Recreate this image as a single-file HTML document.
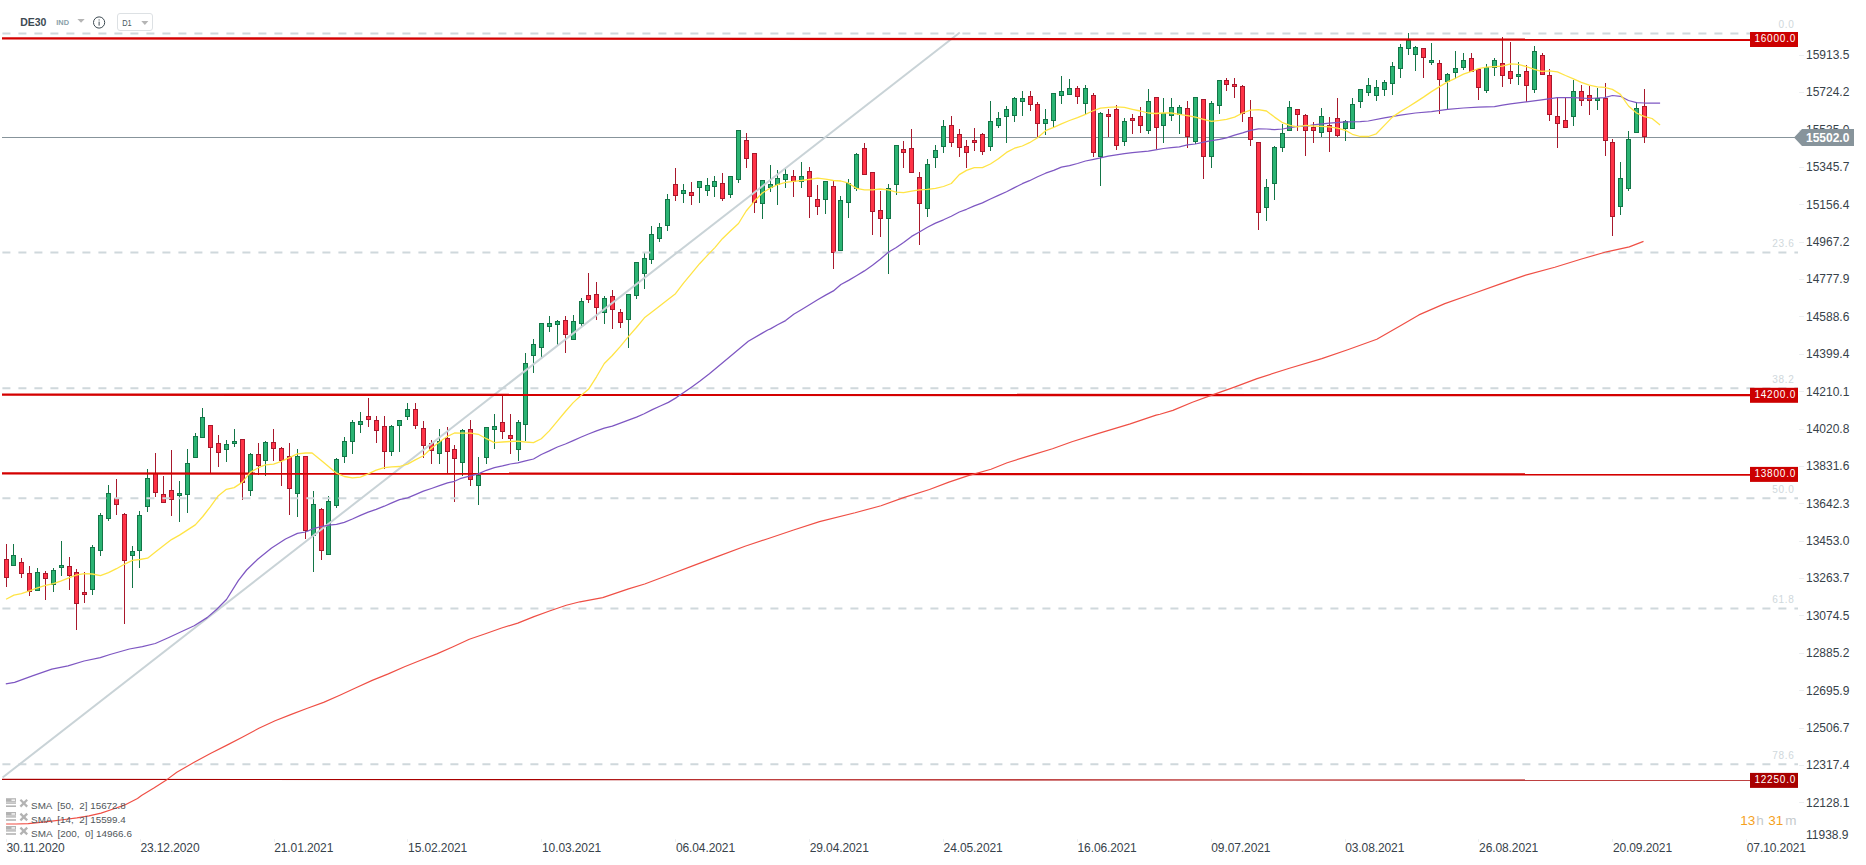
<!DOCTYPE html>
<html><head><meta charset="utf-8"><title>DE30 D1</title>
<style>
html,body{margin:0;padding:0;background:#fff;}
body{width:1866px;height:865px;overflow:hidden;position:relative;font-family:"Liberation Sans",sans-serif;}
svg{position:absolute;left:0;top:0;display:block}
svg text{font-family:"Liberation Sans",sans-serif;}
.ax{font-size:12px;fill:#37424a}
.dt{font-size:12px;fill:#37424a;letter-spacing:-0.1px}
.fib{font-size:10px;fill:#cfd8dc;text-anchor:end;letter-spacing:0.75px}
.tag{font-size:10px;fill:#fff;letter-spacing:0.8px}
.leg{font-size:8.6px;fill:#50565a;white-space:pre}
</style></head><body>
<svg width="1866" height="865" viewBox="0 0 1866 865">
<rect width="1866" height="865" fill="#fff"/>
<g shape-rendering="crispEdges"><rect x="2" y="137" width="1796" height="1" fill="#87949b"/></g>
<g shape-rendering="crispEdges">
<rect x="6" y="544" width="1" height="43" fill="#a8182c"/>
<rect x="4" y="559" width="5" height="19" fill="#a8182c"/>
<rect x="5" y="560" width="3" height="17" fill="#ff3347"/>
<rect x="13" y="544" width="1" height="22" fill="#137547"/>
<rect x="11" y="555" width="5" height="11" fill="#137547"/>
<rect x="12" y="556" width="3" height="9" fill="#2bb373"/>
<rect x="21" y="558" width="1" height="20" fill="#a8182c"/>
<rect x="19" y="562" width="5" height="12" fill="#a8182c"/>
<rect x="20" y="563" width="3" height="10" fill="#ff3347"/>
<rect x="29" y="566" width="1" height="30" fill="#a8182c"/>
<rect x="27" y="573" width="5" height="19" fill="#a8182c"/>
<rect x="28" y="574" width="3" height="17" fill="#ff3347"/>
<rect x="37" y="568" width="1" height="23" fill="#137547"/>
<rect x="35" y="572" width="5" height="19" fill="#137547"/>
<rect x="36" y="573" width="3" height="17" fill="#2bb373"/>
<rect x="45" y="571" width="1" height="29" fill="#a8182c"/>
<rect x="43" y="573" width="5" height="6" fill="#a8182c"/>
<rect x="44" y="574" width="3" height="4" fill="#ff3347"/>
<rect x="53" y="568" width="1" height="24" fill="#137547"/>
<rect x="51" y="570" width="5" height="15" fill="#137547"/>
<rect x="52" y="571" width="3" height="13" fill="#2bb373"/>
<rect x="61" y="541" width="1" height="35" fill="#137547"/>
<rect x="59" y="565" width="5" height="3" fill="#137547"/>
<rect x="60" y="566" width="3" height="1" fill="#2bb373"/>
<rect x="69" y="557" width="1" height="33" fill="#a8182c"/>
<rect x="67" y="566" width="5" height="10" fill="#a8182c"/>
<rect x="68" y="567" width="3" height="8" fill="#ff3347"/>
<rect x="76" y="569" width="1" height="61" fill="#a8182c"/>
<rect x="74" y="572" width="5" height="32" fill="#a8182c"/>
<rect x="75" y="573" width="3" height="30" fill="#ff3347"/>
<rect x="84" y="572" width="1" height="31" fill="#a8182c"/>
<rect x="82" y="592" width="5" height="3" fill="#a8182c"/>
<rect x="83" y="593" width="3" height="1" fill="#ff3347"/>
<rect x="92" y="545" width="1" height="50" fill="#137547"/>
<rect x="90" y="547" width="5" height="43" fill="#137547"/>
<rect x="91" y="548" width="3" height="41" fill="#2bb373"/>
<rect x="100" y="513" width="1" height="43" fill="#137547"/>
<rect x="98" y="515" width="5" height="36" fill="#137547"/>
<rect x="99" y="516" width="3" height="34" fill="#2bb373"/>
<rect x="108" y="485" width="1" height="36" fill="#137547"/>
<rect x="106" y="493" width="5" height="26" fill="#137547"/>
<rect x="107" y="494" width="3" height="24" fill="#2bb373"/>
<rect x="116" y="479" width="1" height="36" fill="#a8182c"/>
<rect x="114" y="498" width="5" height="7" fill="#a8182c"/>
<rect x="115" y="499" width="3" height="5" fill="#ff3347"/>
<rect x="124" y="513" width="1" height="111" fill="#a8182c"/>
<rect x="122" y="514" width="5" height="47" fill="#a8182c"/>
<rect x="123" y="515" width="3" height="45" fill="#ff3347"/>
<rect x="132" y="546" width="1" height="42" fill="#137547"/>
<rect x="130" y="551" width="5" height="5" fill="#137547"/>
<rect x="131" y="552" width="3" height="3" fill="#2bb373"/>
<rect x="139" y="511" width="1" height="57" fill="#137547"/>
<rect x="137" y="515" width="5" height="36" fill="#137547"/>
<rect x="138" y="516" width="3" height="34" fill="#2bb373"/>
<rect x="147" y="469" width="1" height="43" fill="#137547"/>
<rect x="145" y="478" width="5" height="29" fill="#137547"/>
<rect x="146" y="479" width="3" height="27" fill="#2bb373"/>
<rect x="155" y="453" width="1" height="44" fill="#a8182c"/>
<rect x="153" y="473" width="5" height="20" fill="#a8182c"/>
<rect x="154" y="474" width="3" height="18" fill="#ff3347"/>
<rect x="163" y="476" width="1" height="27" fill="#a8182c"/>
<rect x="161" y="494" width="5" height="9" fill="#a8182c"/>
<rect x="162" y="495" width="3" height="7" fill="#ff3347"/>
<rect x="171" y="450" width="1" height="66" fill="#a8182c"/>
<rect x="169" y="490" width="5" height="10" fill="#a8182c"/>
<rect x="170" y="491" width="3" height="8" fill="#ff3347"/>
<rect x="179" y="481" width="1" height="41" fill="#137547"/>
<rect x="177" y="493" width="5" height="3" fill="#137547"/>
<rect x="178" y="494" width="3" height="1" fill="#2bb373"/>
<rect x="187" y="449" width="1" height="64" fill="#137547"/>
<rect x="185" y="463" width="5" height="32" fill="#137547"/>
<rect x="186" y="464" width="3" height="30" fill="#2bb373"/>
<rect x="195" y="433" width="1" height="25" fill="#137547"/>
<rect x="193" y="436" width="5" height="22" fill="#137547"/>
<rect x="194" y="437" width="3" height="20" fill="#2bb373"/>
<rect x="202" y="408" width="1" height="30" fill="#137547"/>
<rect x="200" y="417" width="5" height="21" fill="#137547"/>
<rect x="201" y="418" width="3" height="19" fill="#2bb373"/>
<rect x="210" y="425" width="1" height="48" fill="#a8182c"/>
<rect x="208" y="425" width="5" height="23" fill="#a8182c"/>
<rect x="209" y="426" width="3" height="21" fill="#ff3347"/>
<rect x="218" y="435" width="1" height="32" fill="#a8182c"/>
<rect x="216" y="443" width="5" height="10" fill="#a8182c"/>
<rect x="217" y="444" width="3" height="8" fill="#ff3347"/>
<rect x="226" y="440" width="1" height="22" fill="#137547"/>
<rect x="224" y="444" width="5" height="6" fill="#137547"/>
<rect x="225" y="445" width="3" height="4" fill="#2bb373"/>
<rect x="234" y="429" width="1" height="18" fill="#137547"/>
<rect x="232" y="441" width="5" height="3" fill="#137547"/>
<rect x="233" y="442" width="3" height="1" fill="#2bb373"/>
<rect x="242" y="439" width="1" height="61" fill="#a8182c"/>
<rect x="240" y="439" width="5" height="44" fill="#a8182c"/>
<rect x="241" y="440" width="3" height="42" fill="#ff3347"/>
<rect x="250" y="453" width="1" height="43" fill="#137547"/>
<rect x="248" y="454" width="5" height="37" fill="#137547"/>
<rect x="249" y="455" width="3" height="35" fill="#2bb373"/>
<rect x="258" y="443" width="1" height="32" fill="#a8182c"/>
<rect x="256" y="454" width="5" height="12" fill="#a8182c"/>
<rect x="257" y="455" width="3" height="10" fill="#ff3347"/>
<rect x="265" y="441" width="1" height="35" fill="#137547"/>
<rect x="263" y="442" width="5" height="19" fill="#137547"/>
<rect x="264" y="443" width="3" height="17" fill="#2bb373"/>
<rect x="273" y="429" width="1" height="32" fill="#a8182c"/>
<rect x="271" y="442" width="5" height="7" fill="#a8182c"/>
<rect x="272" y="443" width="3" height="5" fill="#ff3347"/>
<rect x="281" y="447" width="1" height="39" fill="#a8182c"/>
<rect x="279" y="448" width="5" height="13" fill="#a8182c"/>
<rect x="280" y="449" width="3" height="11" fill="#ff3347"/>
<rect x="289" y="443" width="1" height="72" fill="#a8182c"/>
<rect x="287" y="456" width="5" height="33" fill="#a8182c"/>
<rect x="288" y="457" width="3" height="31" fill="#ff3347"/>
<rect x="297" y="449" width="1" height="68" fill="#137547"/>
<rect x="295" y="456" width="5" height="38" fill="#137547"/>
<rect x="296" y="457" width="3" height="36" fill="#2bb373"/>
<rect x="305" y="456" width="1" height="83" fill="#a8182c"/>
<rect x="303" y="456" width="5" height="75" fill="#a8182c"/>
<rect x="304" y="457" width="3" height="73" fill="#ff3347"/>
<rect x="313" y="491" width="1" height="81" fill="#137547"/>
<rect x="311" y="504" width="5" height="32" fill="#137547"/>
<rect x="312" y="505" width="3" height="30" fill="#2bb373"/>
<rect x="321" y="508" width="1" height="52" fill="#a8182c"/>
<rect x="319" y="509" width="5" height="42" fill="#a8182c"/>
<rect x="320" y="510" width="3" height="40" fill="#ff3347"/>
<rect x="328" y="496" width="1" height="59" fill="#137547"/>
<rect x="326" y="501" width="5" height="54" fill="#137547"/>
<rect x="327" y="502" width="3" height="52" fill="#2bb373"/>
<rect x="336" y="458" width="1" height="50" fill="#137547"/>
<rect x="334" y="459" width="5" height="47" fill="#137547"/>
<rect x="335" y="460" width="3" height="45" fill="#2bb373"/>
<rect x="344" y="437" width="1" height="26" fill="#137547"/>
<rect x="342" y="441" width="5" height="16" fill="#137547"/>
<rect x="343" y="442" width="3" height="14" fill="#2bb373"/>
<rect x="352" y="420" width="1" height="34" fill="#137547"/>
<rect x="350" y="422" width="5" height="20" fill="#137547"/>
<rect x="351" y="423" width="3" height="18" fill="#2bb373"/>
<rect x="360" y="412" width="1" height="21" fill="#137547"/>
<rect x="358" y="421" width="5" height="4" fill="#137547"/>
<rect x="359" y="422" width="3" height="2" fill="#2bb373"/>
<rect x="368" y="398" width="1" height="29" fill="#a8182c"/>
<rect x="366" y="416" width="5" height="4" fill="#a8182c"/>
<rect x="367" y="417" width="3" height="2" fill="#ff3347"/>
<rect x="376" y="416" width="1" height="27" fill="#a8182c"/>
<rect x="374" y="420" width="5" height="11" fill="#a8182c"/>
<rect x="375" y="421" width="3" height="9" fill="#ff3347"/>
<rect x="384" y="416" width="1" height="53" fill="#a8182c"/>
<rect x="382" y="426" width="5" height="26" fill="#a8182c"/>
<rect x="383" y="427" width="3" height="24" fill="#ff3347"/>
<rect x="391" y="425" width="1" height="31" fill="#137547"/>
<rect x="389" y="426" width="5" height="26" fill="#137547"/>
<rect x="390" y="427" width="3" height="24" fill="#2bb373"/>
<rect x="399" y="420" width="1" height="32" fill="#137547"/>
<rect x="397" y="420" width="5" height="6" fill="#137547"/>
<rect x="398" y="421" width="3" height="4" fill="#2bb373"/>
<rect x="407" y="403" width="1" height="17" fill="#137547"/>
<rect x="405" y="409" width="5" height="8" fill="#137547"/>
<rect x="406" y="410" width="3" height="6" fill="#2bb373"/>
<rect x="415" y="403" width="1" height="26" fill="#a8182c"/>
<rect x="413" y="409" width="5" height="17" fill="#a8182c"/>
<rect x="414" y="410" width="3" height="15" fill="#ff3347"/>
<rect x="423" y="421" width="1" height="37" fill="#a8182c"/>
<rect x="421" y="428" width="5" height="18" fill="#a8182c"/>
<rect x="422" y="429" width="3" height="16" fill="#ff3347"/>
<rect x="431" y="440" width="1" height="24" fill="#a8182c"/>
<rect x="429" y="443" width="5" height="8" fill="#a8182c"/>
<rect x="430" y="444" width="3" height="6" fill="#ff3347"/>
<rect x="439" y="429" width="1" height="35" fill="#137547"/>
<rect x="437" y="441" width="5" height="13" fill="#137547"/>
<rect x="438" y="442" width="3" height="11" fill="#2bb373"/>
<rect x="447" y="427" width="1" height="47" fill="#a8182c"/>
<rect x="445" y="438" width="5" height="14" fill="#a8182c"/>
<rect x="446" y="439" width="3" height="12" fill="#ff3347"/>
<rect x="454" y="445" width="1" height="57" fill="#a8182c"/>
<rect x="452" y="449" width="5" height="10" fill="#a8182c"/>
<rect x="453" y="450" width="3" height="8" fill="#ff3347"/>
<rect x="462" y="429" width="1" height="47" fill="#137547"/>
<rect x="460" y="430" width="5" height="33" fill="#137547"/>
<rect x="461" y="431" width="3" height="31" fill="#2bb373"/>
<rect x="470" y="420" width="1" height="66" fill="#a8182c"/>
<rect x="468" y="429" width="5" height="51" fill="#a8182c"/>
<rect x="469" y="430" width="3" height="49" fill="#ff3347"/>
<rect x="478" y="457" width="1" height="48" fill="#137547"/>
<rect x="476" y="475" width="5" height="11" fill="#137547"/>
<rect x="477" y="476" width="3" height="9" fill="#2bb373"/>
<rect x="486" y="427" width="1" height="37" fill="#137547"/>
<rect x="484" y="427" width="5" height="31" fill="#137547"/>
<rect x="485" y="428" width="3" height="29" fill="#2bb373"/>
<rect x="494" y="414" width="1" height="35" fill="#137547"/>
<rect x="492" y="426" width="5" height="4" fill="#137547"/>
<rect x="493" y="427" width="3" height="2" fill="#2bb373"/>
<rect x="502" y="395" width="1" height="44" fill="#a8182c"/>
<rect x="500" y="422" width="5" height="10" fill="#a8182c"/>
<rect x="501" y="423" width="3" height="8" fill="#ff3347"/>
<rect x="510" y="414" width="1" height="40" fill="#a8182c"/>
<rect x="508" y="435" width="5" height="4" fill="#a8182c"/>
<rect x="509" y="436" width="3" height="2" fill="#ff3347"/>
<rect x="518" y="420" width="1" height="41" fill="#137547"/>
<rect x="516" y="422" width="5" height="28" fill="#137547"/>
<rect x="517" y="423" width="3" height="26" fill="#2bb373"/>
<rect x="525" y="353" width="1" height="88" fill="#137547"/>
<rect x="523" y="363" width="5" height="62" fill="#137547"/>
<rect x="524" y="364" width="3" height="60" fill="#2bb373"/>
<rect x="533" y="339" width="1" height="34" fill="#137547"/>
<rect x="531" y="344" width="5" height="12" fill="#137547"/>
<rect x="532" y="345" width="3" height="10" fill="#2bb373"/>
<rect x="541" y="323" width="1" height="34" fill="#137547"/>
<rect x="539" y="323" width="5" height="25" fill="#137547"/>
<rect x="540" y="324" width="3" height="23" fill="#2bb373"/>
<rect x="549" y="316" width="1" height="16" fill="#137547"/>
<rect x="547" y="323" width="5" height="4" fill="#137547"/>
<rect x="548" y="324" width="3" height="2" fill="#2bb373"/>
<rect x="557" y="320" width="1" height="25" fill="#137547"/>
<rect x="555" y="321" width="5" height="4" fill="#137547"/>
<rect x="556" y="322" width="3" height="2" fill="#2bb373"/>
<rect x="565" y="316" width="1" height="37" fill="#a8182c"/>
<rect x="563" y="320" width="5" height="15" fill="#a8182c"/>
<rect x="564" y="321" width="3" height="13" fill="#ff3347"/>
<rect x="573" y="315" width="1" height="25" fill="#137547"/>
<rect x="571" y="321" width="5" height="19" fill="#137547"/>
<rect x="572" y="322" width="3" height="17" fill="#2bb373"/>
<rect x="581" y="298" width="1" height="29" fill="#137547"/>
<rect x="579" y="301" width="5" height="23" fill="#137547"/>
<rect x="580" y="302" width="3" height="21" fill="#2bb373"/>
<rect x="588" y="273" width="1" height="30" fill="#a8182c"/>
<rect x="586" y="295" width="5" height="5" fill="#a8182c"/>
<rect x="587" y="296" width="3" height="3" fill="#ff3347"/>
<rect x="596" y="282" width="1" height="38" fill="#a8182c"/>
<rect x="594" y="294" width="5" height="14" fill="#a8182c"/>
<rect x="595" y="295" width="3" height="12" fill="#ff3347"/>
<rect x="604" y="296" width="1" height="28" fill="#137547"/>
<rect x="602" y="298" width="5" height="15" fill="#137547"/>
<rect x="603" y="299" width="3" height="13" fill="#2bb373"/>
<rect x="612" y="290" width="1" height="39" fill="#a8182c"/>
<rect x="610" y="296" width="5" height="14" fill="#a8182c"/>
<rect x="611" y="297" width="3" height="12" fill="#ff3347"/>
<rect x="620" y="309" width="1" height="19" fill="#a8182c"/>
<rect x="618" y="312" width="5" height="11" fill="#a8182c"/>
<rect x="619" y="313" width="3" height="9" fill="#ff3347"/>
<rect x="628" y="294" width="1" height="54" fill="#137547"/>
<rect x="626" y="294" width="5" height="26" fill="#137547"/>
<rect x="627" y="295" width="3" height="24" fill="#2bb373"/>
<rect x="636" y="262" width="1" height="37" fill="#137547"/>
<rect x="634" y="262" width="5" height="34" fill="#137547"/>
<rect x="635" y="263" width="3" height="32" fill="#2bb373"/>
<rect x="644" y="253" width="1" height="36" fill="#137547"/>
<rect x="642" y="258" width="5" height="16" fill="#137547"/>
<rect x="643" y="259" width="3" height="14" fill="#2bb373"/>
<rect x="651" y="226" width="1" height="38" fill="#137547"/>
<rect x="649" y="234" width="5" height="26" fill="#137547"/>
<rect x="650" y="235" width="3" height="24" fill="#2bb373"/>
<rect x="659" y="223" width="1" height="19" fill="#137547"/>
<rect x="657" y="227" width="5" height="12" fill="#137547"/>
<rect x="658" y="228" width="3" height="10" fill="#2bb373"/>
<rect x="667" y="194" width="1" height="37" fill="#137547"/>
<rect x="665" y="199" width="5" height="27" fill="#137547"/>
<rect x="666" y="200" width="3" height="25" fill="#2bb373"/>
<rect x="675" y="168" width="1" height="33" fill="#a8182c"/>
<rect x="673" y="184" width="5" height="12" fill="#a8182c"/>
<rect x="674" y="185" width="3" height="10" fill="#ff3347"/>
<rect x="683" y="184" width="1" height="19" fill="#137547"/>
<rect x="681" y="190" width="5" height="4" fill="#137547"/>
<rect x="682" y="191" width="3" height="2" fill="#2bb373"/>
<rect x="691" y="182" width="1" height="23" fill="#a8182c"/>
<rect x="689" y="192" width="5" height="4" fill="#a8182c"/>
<rect x="690" y="193" width="3" height="2" fill="#ff3347"/>
<rect x="699" y="181" width="1" height="22" fill="#137547"/>
<rect x="697" y="181" width="5" height="7" fill="#137547"/>
<rect x="698" y="182" width="3" height="5" fill="#2bb373"/>
<rect x="707" y="178" width="1" height="18" fill="#137547"/>
<rect x="705" y="185" width="5" height="6" fill="#137547"/>
<rect x="706" y="186" width="3" height="4" fill="#2bb373"/>
<rect x="714" y="176" width="1" height="21" fill="#137547"/>
<rect x="712" y="181" width="5" height="6" fill="#137547"/>
<rect x="713" y="182" width="3" height="4" fill="#2bb373"/>
<rect x="722" y="173" width="1" height="28" fill="#a8182c"/>
<rect x="720" y="183" width="5" height="16" fill="#a8182c"/>
<rect x="721" y="184" width="3" height="14" fill="#ff3347"/>
<rect x="730" y="176" width="1" height="22" fill="#137547"/>
<rect x="728" y="176" width="5" height="19" fill="#137547"/>
<rect x="729" y="177" width="3" height="17" fill="#2bb373"/>
<rect x="738" y="130" width="1" height="53" fill="#137547"/>
<rect x="736" y="130" width="5" height="50" fill="#137547"/>
<rect x="737" y="131" width="3" height="48" fill="#2bb373"/>
<rect x="746" y="133" width="1" height="35" fill="#a8182c"/>
<rect x="744" y="140" width="5" height="19" fill="#a8182c"/>
<rect x="745" y="141" width="3" height="17" fill="#ff3347"/>
<rect x="754" y="153" width="1" height="60" fill="#a8182c"/>
<rect x="752" y="153" width="5" height="50" fill="#a8182c"/>
<rect x="753" y="154" width="3" height="48" fill="#ff3347"/>
<rect x="762" y="180" width="1" height="39" fill="#137547"/>
<rect x="760" y="180" width="5" height="24" fill="#137547"/>
<rect x="761" y="181" width="3" height="22" fill="#2bb373"/>
<rect x="770" y="165" width="1" height="27" fill="#137547"/>
<rect x="768" y="184" width="5" height="4" fill="#137547"/>
<rect x="769" y="185" width="3" height="2" fill="#2bb373"/>
<rect x="777" y="170" width="1" height="35" fill="#137547"/>
<rect x="775" y="178" width="5" height="7" fill="#137547"/>
<rect x="776" y="179" width="3" height="5" fill="#2bb373"/>
<rect x="785" y="169" width="1" height="19" fill="#137547"/>
<rect x="783" y="174" width="5" height="6" fill="#137547"/>
<rect x="784" y="175" width="3" height="4" fill="#2bb373"/>
<rect x="793" y="170" width="1" height="27" fill="#a8182c"/>
<rect x="791" y="176" width="5" height="6" fill="#a8182c"/>
<rect x="792" y="177" width="3" height="4" fill="#ff3347"/>
<rect x="801" y="162" width="1" height="26" fill="#137547"/>
<rect x="799" y="176" width="5" height="6" fill="#137547"/>
<rect x="800" y="177" width="3" height="4" fill="#2bb373"/>
<rect x="809" y="167" width="1" height="51" fill="#a8182c"/>
<rect x="807" y="171" width="5" height="26" fill="#a8182c"/>
<rect x="808" y="172" width="3" height="24" fill="#ff3347"/>
<rect x="817" y="185" width="1" height="30" fill="#a8182c"/>
<rect x="815" y="199" width="5" height="8" fill="#a8182c"/>
<rect x="816" y="200" width="3" height="6" fill="#ff3347"/>
<rect x="825" y="181" width="1" height="33" fill="#137547"/>
<rect x="823" y="181" width="5" height="19" fill="#137547"/>
<rect x="824" y="182" width="3" height="17" fill="#2bb373"/>
<rect x="833" y="181" width="1" height="88" fill="#a8182c"/>
<rect x="831" y="186" width="5" height="67" fill="#a8182c"/>
<rect x="832" y="187" width="3" height="65" fill="#ff3347"/>
<rect x="840" y="196" width="1" height="55" fill="#137547"/>
<rect x="838" y="200" width="5" height="51" fill="#137547"/>
<rect x="839" y="201" width="3" height="49" fill="#2bb373"/>
<rect x="848" y="179" width="1" height="39" fill="#137547"/>
<rect x="846" y="183" width="5" height="20" fill="#137547"/>
<rect x="847" y="184" width="3" height="18" fill="#2bb373"/>
<rect x="856" y="153" width="1" height="38" fill="#137547"/>
<rect x="854" y="154" width="5" height="35" fill="#137547"/>
<rect x="855" y="155" width="3" height="33" fill="#2bb373"/>
<rect x="864" y="143" width="1" height="32" fill="#a8182c"/>
<rect x="862" y="148" width="5" height="27" fill="#a8182c"/>
<rect x="863" y="149" width="3" height="25" fill="#ff3347"/>
<rect x="872" y="172" width="1" height="63" fill="#a8182c"/>
<rect x="870" y="172" width="5" height="40" fill="#a8182c"/>
<rect x="871" y="173" width="3" height="38" fill="#ff3347"/>
<rect x="880" y="191" width="1" height="46" fill="#a8182c"/>
<rect x="878" y="210" width="5" height="9" fill="#a8182c"/>
<rect x="879" y="211" width="3" height="7" fill="#ff3347"/>
<rect x="888" y="184" width="1" height="90" fill="#137547"/>
<rect x="886" y="188" width="5" height="31" fill="#137547"/>
<rect x="887" y="189" width="3" height="29" fill="#2bb373"/>
<rect x="896" y="145" width="1" height="50" fill="#137547"/>
<rect x="894" y="145" width="5" height="40" fill="#137547"/>
<rect x="895" y="146" width="3" height="38" fill="#2bb373"/>
<rect x="903" y="141" width="1" height="27" fill="#a8182c"/>
<rect x="901" y="149" width="5" height="4" fill="#a8182c"/>
<rect x="902" y="150" width="3" height="2" fill="#ff3347"/>
<rect x="911" y="129" width="1" height="44" fill="#a8182c"/>
<rect x="909" y="148" width="5" height="25" fill="#a8182c"/>
<rect x="910" y="149" width="3" height="23" fill="#ff3347"/>
<rect x="919" y="172" width="1" height="73" fill="#a8182c"/>
<rect x="917" y="177" width="5" height="27" fill="#a8182c"/>
<rect x="918" y="178" width="3" height="25" fill="#ff3347"/>
<rect x="927" y="159" width="1" height="58" fill="#137547"/>
<rect x="925" y="164" width="5" height="45" fill="#137547"/>
<rect x="926" y="165" width="3" height="43" fill="#2bb373"/>
<rect x="935" y="145" width="1" height="23" fill="#137547"/>
<rect x="933" y="150" width="5" height="8" fill="#137547"/>
<rect x="934" y="151" width="3" height="6" fill="#2bb373"/>
<rect x="943" y="120" width="1" height="33" fill="#137547"/>
<rect x="941" y="126" width="5" height="21" fill="#137547"/>
<rect x="942" y="127" width="3" height="19" fill="#2bb373"/>
<rect x="951" y="116" width="1" height="31" fill="#a8182c"/>
<rect x="949" y="125" width="5" height="18" fill="#a8182c"/>
<rect x="950" y="126" width="3" height="16" fill="#ff3347"/>
<rect x="959" y="129" width="1" height="28" fill="#a8182c"/>
<rect x="957" y="134" width="5" height="14" fill="#a8182c"/>
<rect x="958" y="135" width="3" height="12" fill="#ff3347"/>
<rect x="966" y="140" width="1" height="28" fill="#a8182c"/>
<rect x="964" y="146" width="5" height="7" fill="#a8182c"/>
<rect x="965" y="147" width="3" height="5" fill="#ff3347"/>
<rect x="974" y="128" width="1" height="23" fill="#a8182c"/>
<rect x="972" y="140" width="5" height="3" fill="#a8182c"/>
<rect x="973" y="141" width="3" height="1" fill="#ff3347"/>
<rect x="982" y="133" width="1" height="22" fill="#a8182c"/>
<rect x="980" y="134" width="5" height="18" fill="#a8182c"/>
<rect x="981" y="135" width="3" height="16" fill="#ff3347"/>
<rect x="990" y="101" width="1" height="50" fill="#137547"/>
<rect x="988" y="121" width="5" height="26" fill="#137547"/>
<rect x="989" y="122" width="3" height="24" fill="#2bb373"/>
<rect x="998" y="112" width="1" height="16" fill="#137547"/>
<rect x="996" y="118" width="5" height="8" fill="#137547"/>
<rect x="997" y="119" width="3" height="6" fill="#2bb373"/>
<rect x="1006" y="106" width="1" height="37" fill="#137547"/>
<rect x="1004" y="109" width="5" height="8" fill="#137547"/>
<rect x="1005" y="110" width="3" height="6" fill="#2bb373"/>
<rect x="1014" y="97" width="1" height="25" fill="#137547"/>
<rect x="1012" y="98" width="5" height="18" fill="#137547"/>
<rect x="1013" y="99" width="3" height="16" fill="#2bb373"/>
<rect x="1022" y="91" width="1" height="25" fill="#137547"/>
<rect x="1020" y="98" width="5" height="4" fill="#137547"/>
<rect x="1021" y="99" width="3" height="2" fill="#2bb373"/>
<rect x="1030" y="91" width="1" height="20" fill="#a8182c"/>
<rect x="1028" y="96" width="5" height="9" fill="#a8182c"/>
<rect x="1029" y="97" width="3" height="7" fill="#ff3347"/>
<rect x="1037" y="102" width="1" height="35" fill="#a8182c"/>
<rect x="1035" y="104" width="5" height="20" fill="#a8182c"/>
<rect x="1036" y="105" width="3" height="18" fill="#ff3347"/>
<rect x="1045" y="109" width="1" height="26" fill="#137547"/>
<rect x="1043" y="119" width="5" height="5" fill="#137547"/>
<rect x="1044" y="120" width="3" height="3" fill="#2bb373"/>
<rect x="1053" y="93" width="1" height="35" fill="#137547"/>
<rect x="1051" y="93" width="5" height="28" fill="#137547"/>
<rect x="1052" y="94" width="3" height="26" fill="#2bb373"/>
<rect x="1061" y="76" width="1" height="28" fill="#137547"/>
<rect x="1059" y="91" width="5" height="5" fill="#137547"/>
<rect x="1060" y="92" width="3" height="3" fill="#2bb373"/>
<rect x="1069" y="79" width="1" height="16" fill="#137547"/>
<rect x="1067" y="88" width="5" height="7" fill="#137547"/>
<rect x="1068" y="89" width="3" height="5" fill="#2bb373"/>
<rect x="1077" y="86" width="1" height="18" fill="#a8182c"/>
<rect x="1075" y="88" width="5" height="9" fill="#a8182c"/>
<rect x="1076" y="89" width="3" height="7" fill="#ff3347"/>
<rect x="1085" y="85" width="1" height="29" fill="#137547"/>
<rect x="1083" y="88" width="5" height="16" fill="#137547"/>
<rect x="1084" y="89" width="3" height="14" fill="#2bb373"/>
<rect x="1093" y="93" width="1" height="64" fill="#a8182c"/>
<rect x="1091" y="95" width="5" height="58" fill="#a8182c"/>
<rect x="1092" y="96" width="3" height="56" fill="#ff3347"/>
<rect x="1100" y="112" width="1" height="74" fill="#137547"/>
<rect x="1098" y="113" width="5" height="44" fill="#137547"/>
<rect x="1099" y="114" width="3" height="42" fill="#2bb373"/>
<rect x="1108" y="109" width="1" height="28" fill="#a8182c"/>
<rect x="1106" y="114" width="5" height="3" fill="#a8182c"/>
<rect x="1107" y="115" width="3" height="1" fill="#ff3347"/>
<rect x="1116" y="105" width="1" height="45" fill="#a8182c"/>
<rect x="1114" y="109" width="5" height="37" fill="#a8182c"/>
<rect x="1115" y="110" width="3" height="35" fill="#ff3347"/>
<rect x="1124" y="118" width="1" height="28" fill="#137547"/>
<rect x="1122" y="121" width="5" height="21" fill="#137547"/>
<rect x="1123" y="122" width="3" height="19" fill="#2bb373"/>
<rect x="1132" y="114" width="1" height="20" fill="#a8182c"/>
<rect x="1130" y="118" width="5" height="3" fill="#a8182c"/>
<rect x="1131" y="119" width="3" height="1" fill="#ff3347"/>
<rect x="1140" y="107" width="1" height="26" fill="#a8182c"/>
<rect x="1138" y="116" width="5" height="10" fill="#a8182c"/>
<rect x="1139" y="117" width="3" height="8" fill="#ff3347"/>
<rect x="1148" y="89" width="1" height="45" fill="#137547"/>
<rect x="1146" y="101" width="5" height="30" fill="#137547"/>
<rect x="1147" y="102" width="3" height="28" fill="#2bb373"/>
<rect x="1156" y="97" width="1" height="52" fill="#a8182c"/>
<rect x="1154" y="97" width="5" height="31" fill="#a8182c"/>
<rect x="1155" y="98" width="3" height="29" fill="#ff3347"/>
<rect x="1163" y="98" width="1" height="45" fill="#137547"/>
<rect x="1161" y="113" width="5" height="13" fill="#137547"/>
<rect x="1162" y="114" width="3" height="11" fill="#2bb373"/>
<rect x="1171" y="98" width="1" height="23" fill="#137547"/>
<rect x="1169" y="107" width="5" height="9" fill="#137547"/>
<rect x="1170" y="108" width="3" height="7" fill="#2bb373"/>
<rect x="1179" y="105" width="1" height="29" fill="#137547"/>
<rect x="1177" y="107" width="5" height="8" fill="#137547"/>
<rect x="1178" y="108" width="3" height="6" fill="#2bb373"/>
<rect x="1187" y="101" width="1" height="47" fill="#a8182c"/>
<rect x="1185" y="108" width="5" height="29" fill="#a8182c"/>
<rect x="1186" y="109" width="3" height="27" fill="#ff3347"/>
<rect x="1195" y="97" width="1" height="47" fill="#137547"/>
<rect x="1193" y="97" width="5" height="45" fill="#137547"/>
<rect x="1194" y="98" width="3" height="43" fill="#2bb373"/>
<rect x="1203" y="99" width="1" height="80" fill="#a8182c"/>
<rect x="1201" y="99" width="5" height="58" fill="#a8182c"/>
<rect x="1202" y="100" width="3" height="56" fill="#ff3347"/>
<rect x="1211" y="101" width="1" height="67" fill="#137547"/>
<rect x="1209" y="103" width="5" height="54" fill="#137547"/>
<rect x="1210" y="104" width="3" height="52" fill="#2bb373"/>
<rect x="1219" y="80" width="1" height="34" fill="#137547"/>
<rect x="1217" y="80" width="5" height="26" fill="#137547"/>
<rect x="1218" y="81" width="3" height="24" fill="#2bb373"/>
<rect x="1226" y="78" width="1" height="13" fill="#a8182c"/>
<rect x="1224" y="80" width="5" height="5" fill="#a8182c"/>
<rect x="1225" y="81" width="3" height="3" fill="#ff3347"/>
<rect x="1234" y="78" width="1" height="20" fill="#a8182c"/>
<rect x="1232" y="84" width="5" height="3" fill="#a8182c"/>
<rect x="1233" y="85" width="3" height="1" fill="#ff3347"/>
<rect x="1242" y="85" width="1" height="37" fill="#a8182c"/>
<rect x="1240" y="86" width="5" height="28" fill="#a8182c"/>
<rect x="1241" y="87" width="3" height="26" fill="#ff3347"/>
<rect x="1250" y="100" width="1" height="46" fill="#a8182c"/>
<rect x="1248" y="117" width="5" height="23" fill="#a8182c"/>
<rect x="1249" y="118" width="3" height="21" fill="#ff3347"/>
<rect x="1258" y="142" width="1" height="88" fill="#a8182c"/>
<rect x="1256" y="142" width="5" height="71" fill="#a8182c"/>
<rect x="1257" y="143" width="3" height="69" fill="#ff3347"/>
<rect x="1266" y="179" width="1" height="42" fill="#137547"/>
<rect x="1264" y="187" width="5" height="21" fill="#137547"/>
<rect x="1265" y="188" width="3" height="19" fill="#2bb373"/>
<rect x="1274" y="146" width="1" height="54" fill="#137547"/>
<rect x="1272" y="147" width="5" height="37" fill="#137547"/>
<rect x="1273" y="148" width="3" height="35" fill="#2bb373"/>
<rect x="1282" y="124" width="1" height="28" fill="#137547"/>
<rect x="1280" y="133" width="5" height="15" fill="#137547"/>
<rect x="1281" y="134" width="3" height="13" fill="#2bb373"/>
<rect x="1289" y="101" width="1" height="30" fill="#137547"/>
<rect x="1287" y="107" width="5" height="24" fill="#137547"/>
<rect x="1288" y="108" width="3" height="22" fill="#2bb373"/>
<rect x="1297" y="109" width="1" height="22" fill="#a8182c"/>
<rect x="1295" y="109" width="5" height="6" fill="#a8182c"/>
<rect x="1296" y="110" width="3" height="4" fill="#ff3347"/>
<rect x="1305" y="114" width="1" height="42" fill="#a8182c"/>
<rect x="1303" y="115" width="5" height="16" fill="#a8182c"/>
<rect x="1304" y="116" width="3" height="14" fill="#ff3347"/>
<rect x="1313" y="122" width="1" height="21" fill="#a8182c"/>
<rect x="1311" y="127" width="5" height="4" fill="#a8182c"/>
<rect x="1312" y="128" width="3" height="2" fill="#ff3347"/>
<rect x="1321" y="108" width="1" height="29" fill="#137547"/>
<rect x="1319" y="116" width="5" height="17" fill="#137547"/>
<rect x="1320" y="117" width="3" height="15" fill="#2bb373"/>
<rect x="1329" y="117" width="1" height="35" fill="#a8182c"/>
<rect x="1327" y="125" width="5" height="7" fill="#a8182c"/>
<rect x="1328" y="126" width="3" height="5" fill="#ff3347"/>
<rect x="1337" y="98" width="1" height="39" fill="#a8182c"/>
<rect x="1335" y="118" width="5" height="18" fill="#a8182c"/>
<rect x="1336" y="119" width="3" height="16" fill="#ff3347"/>
<rect x="1345" y="120" width="1" height="21" fill="#137547"/>
<rect x="1343" y="121" width="5" height="8" fill="#137547"/>
<rect x="1344" y="122" width="3" height="6" fill="#2bb373"/>
<rect x="1352" y="98" width="1" height="31" fill="#137547"/>
<rect x="1350" y="104" width="5" height="25" fill="#137547"/>
<rect x="1351" y="105" width="3" height="23" fill="#2bb373"/>
<rect x="1360" y="89" width="1" height="19" fill="#137547"/>
<rect x="1358" y="89" width="5" height="13" fill="#137547"/>
<rect x="1359" y="90" width="3" height="11" fill="#2bb373"/>
<rect x="1368" y="78" width="1" height="18" fill="#137547"/>
<rect x="1366" y="85" width="5" height="8" fill="#137547"/>
<rect x="1367" y="86" width="3" height="6" fill="#2bb373"/>
<rect x="1376" y="80" width="1" height="21" fill="#137547"/>
<rect x="1374" y="87" width="5" height="9" fill="#137547"/>
<rect x="1375" y="88" width="3" height="7" fill="#2bb373"/>
<rect x="1384" y="80" width="1" height="16" fill="#137547"/>
<rect x="1382" y="82" width="5" height="8" fill="#137547"/>
<rect x="1383" y="83" width="3" height="6" fill="#2bb373"/>
<rect x="1392" y="62" width="1" height="33" fill="#137547"/>
<rect x="1390" y="66" width="5" height="18" fill="#137547"/>
<rect x="1391" y="67" width="3" height="16" fill="#2bb373"/>
<rect x="1400" y="44" width="1" height="34" fill="#137547"/>
<rect x="1398" y="47" width="5" height="22" fill="#137547"/>
<rect x="1399" y="48" width="3" height="20" fill="#2bb373"/>
<rect x="1408" y="33" width="1" height="22" fill="#137547"/>
<rect x="1406" y="40" width="5" height="9" fill="#137547"/>
<rect x="1407" y="41" width="3" height="7" fill="#2bb373"/>
<rect x="1415" y="46" width="1" height="25" fill="#137547"/>
<rect x="1413" y="47" width="5" height="8" fill="#137547"/>
<rect x="1414" y="48" width="3" height="6" fill="#2bb373"/>
<rect x="1423" y="48" width="1" height="30" fill="#a8182c"/>
<rect x="1421" y="48" width="5" height="10" fill="#a8182c"/>
<rect x="1422" y="49" width="3" height="8" fill="#ff3347"/>
<rect x="1431" y="43" width="1" height="22" fill="#137547"/>
<rect x="1429" y="60" width="5" height="3" fill="#137547"/>
<rect x="1430" y="61" width="3" height="1" fill="#2bb373"/>
<rect x="1439" y="60" width="1" height="54" fill="#a8182c"/>
<rect x="1437" y="63" width="5" height="17" fill="#a8182c"/>
<rect x="1438" y="64" width="3" height="15" fill="#ff3347"/>
<rect x="1447" y="73" width="1" height="36" fill="#137547"/>
<rect x="1445" y="74" width="5" height="8" fill="#137547"/>
<rect x="1446" y="75" width="3" height="6" fill="#2bb373"/>
<rect x="1455" y="51" width="1" height="28" fill="#137547"/>
<rect x="1453" y="68" width="5" height="5" fill="#137547"/>
<rect x="1454" y="69" width="3" height="3" fill="#2bb373"/>
<rect x="1463" y="53" width="1" height="17" fill="#137547"/>
<rect x="1461" y="60" width="5" height="8" fill="#137547"/>
<rect x="1462" y="61" width="3" height="6" fill="#2bb373"/>
<rect x="1471" y="53" width="1" height="19" fill="#a8182c"/>
<rect x="1469" y="58" width="5" height="14" fill="#a8182c"/>
<rect x="1470" y="59" width="3" height="12" fill="#ff3347"/>
<rect x="1478" y="69" width="1" height="31" fill="#a8182c"/>
<rect x="1476" y="69" width="5" height="19" fill="#a8182c"/>
<rect x="1477" y="70" width="3" height="17" fill="#ff3347"/>
<rect x="1486" y="64" width="1" height="29" fill="#137547"/>
<rect x="1484" y="67" width="5" height="24" fill="#137547"/>
<rect x="1485" y="68" width="3" height="22" fill="#2bb373"/>
<rect x="1494" y="58" width="1" height="18" fill="#137547"/>
<rect x="1492" y="60" width="5" height="8" fill="#137547"/>
<rect x="1493" y="61" width="3" height="6" fill="#2bb373"/>
<rect x="1502" y="37" width="1" height="50" fill="#a8182c"/>
<rect x="1500" y="63" width="5" height="13" fill="#a8182c"/>
<rect x="1501" y="64" width="3" height="11" fill="#ff3347"/>
<rect x="1510" y="42" width="1" height="42" fill="#a8182c"/>
<rect x="1508" y="71" width="5" height="8" fill="#a8182c"/>
<rect x="1509" y="72" width="3" height="6" fill="#ff3347"/>
<rect x="1518" y="62" width="1" height="23" fill="#137547"/>
<rect x="1516" y="74" width="5" height="3" fill="#137547"/>
<rect x="1517" y="75" width="3" height="1" fill="#2bb373"/>
<rect x="1526" y="65" width="1" height="37" fill="#a8182c"/>
<rect x="1524" y="71" width="5" height="15" fill="#a8182c"/>
<rect x="1525" y="72" width="3" height="13" fill="#ff3347"/>
<rect x="1534" y="46" width="1" height="47" fill="#137547"/>
<rect x="1532" y="51" width="5" height="39" fill="#137547"/>
<rect x="1533" y="52" width="3" height="37" fill="#2bb373"/>
<rect x="1542" y="53" width="1" height="22" fill="#a8182c"/>
<rect x="1540" y="55" width="5" height="20" fill="#a8182c"/>
<rect x="1541" y="56" width="3" height="18" fill="#ff3347"/>
<rect x="1549" y="69" width="1" height="52" fill="#a8182c"/>
<rect x="1547" y="75" width="5" height="40" fill="#a8182c"/>
<rect x="1548" y="76" width="3" height="38" fill="#ff3347"/>
<rect x="1557" y="98" width="1" height="50" fill="#a8182c"/>
<rect x="1555" y="116" width="5" height="8" fill="#a8182c"/>
<rect x="1556" y="117" width="3" height="6" fill="#ff3347"/>
<rect x="1565" y="97" width="1" height="31" fill="#a8182c"/>
<rect x="1563" y="120" width="5" height="8" fill="#a8182c"/>
<rect x="1564" y="121" width="3" height="6" fill="#ff3347"/>
<rect x="1573" y="80" width="1" height="46" fill="#137547"/>
<rect x="1571" y="91" width="5" height="26" fill="#137547"/>
<rect x="1572" y="92" width="3" height="24" fill="#2bb373"/>
<rect x="1581" y="85" width="1" height="21" fill="#a8182c"/>
<rect x="1579" y="91" width="5" height="10" fill="#a8182c"/>
<rect x="1580" y="92" width="3" height="8" fill="#ff3347"/>
<rect x="1589" y="86" width="1" height="29" fill="#a8182c"/>
<rect x="1587" y="95" width="5" height="6" fill="#a8182c"/>
<rect x="1588" y="96" width="3" height="4" fill="#ff3347"/>
<rect x="1597" y="88" width="1" height="22" fill="#137547"/>
<rect x="1595" y="98" width="5" height="3" fill="#137547"/>
<rect x="1596" y="99" width="3" height="1" fill="#2bb373"/>
<rect x="1605" y="83" width="1" height="73" fill="#a8182c"/>
<rect x="1603" y="98" width="5" height="43" fill="#a8182c"/>
<rect x="1604" y="99" width="3" height="41" fill="#ff3347"/>
<rect x="1612" y="139" width="1" height="97" fill="#a8182c"/>
<rect x="1610" y="142" width="5" height="75" fill="#a8182c"/>
<rect x="1611" y="143" width="3" height="73" fill="#ff3347"/>
<rect x="1620" y="162" width="1" height="53" fill="#137547"/>
<rect x="1618" y="178" width="5" height="29" fill="#137547"/>
<rect x="1619" y="179" width="3" height="27" fill="#2bb373"/>
<rect x="1628" y="131" width="1" height="60" fill="#137547"/>
<rect x="1626" y="139" width="5" height="50" fill="#137547"/>
<rect x="1627" y="140" width="3" height="48" fill="#2bb373"/>
<rect x="1636" y="102" width="1" height="31" fill="#137547"/>
<rect x="1634" y="108" width="5" height="25" fill="#137547"/>
<rect x="1635" y="109" width="3" height="23" fill="#2bb373"/>
<rect x="1644" y="89" width="1" height="54" fill="#a8182c"/>
<rect x="1642" y="106" width="5" height="31" fill="#a8182c"/>
<rect x="1643" y="107" width="3" height="29" fill="#ff3347"/>
</g>
<line x1="2.4" y1="33.4" x2="1798" y2="33.4" stroke="#cfd8dc" stroke-width="2" stroke-dasharray="8 8"/>
<line x1="2.4" y1="252.5" x2="1798" y2="252.5" stroke="#cfd8dc" stroke-width="2" stroke-dasharray="8 8"/>
<line x1="2.4" y1="388.3" x2="1798" y2="388.3" stroke="#cfd8dc" stroke-width="2" stroke-dasharray="8 8"/>
<line x1="2.4" y1="498.3" x2="1798" y2="498.3" stroke="#cfd8dc" stroke-width="2" stroke-dasharray="8 8"/>
<line x1="2.4" y1="608.5" x2="1798" y2="608.5" stroke="#cfd8dc" stroke-width="2" stroke-dasharray="8 8"/>
<line x1="2.4" y1="764.3" x2="1798" y2="764.3" stroke="#cfd8dc" stroke-width="2" stroke-dasharray="8 8"/>
<line x1="2.6" y1="777.5" x2="959.8" y2="32.5" stroke="#c9d3d7" stroke-width="2"/>
<line x1="2" y1="38.3" x2="1760" y2="39.75" stroke="#d40000" stroke-width="2.3"/>
<line x1="2" y1="394.7" x2="1760" y2="395.2" stroke="#d40000" stroke-width="2.3"/>
<line x1="2" y1="473.4" x2="1760" y2="474.5" stroke="#d40000" stroke-width="2.3"/>
<line x1="2" y1="779.4" x2="1760" y2="780.2" stroke="#a80000" stroke-width="1.2"/>
<path d="M6.1,824.0 L16.2,824.0 L28.3,823.6 L40.5,822.4 L51.8,821.1 L64.7,819.5 L76.9,817.9 L89.0,815.9 L101.1,813.1 L113.3,809.0 L125.8,804.6 L137.5,798.5 L141.5,795.5 L154.3,787.7 L167.2,779.4 L176.8,772.2 L194.2,762.3 L210.4,753.5 L226.5,745.4 L242.7,737.0 L258.9,728.3 L275.1,720.8 L291.3,714.4 L307.4,708.2 L323.6,702.4 L339.8,695.3 L356.0,687.8 L372.2,680.4 L388.3,673.9 L404.5,666.8 L420.7,660.3 L436.9,653.9 L453.1,646.7 L469.3,639.3 L485.4,633.8 L501.6,628.0 L517.8,623.1 L534.0,616.6 L550.2,610.8 L566.3,605.3 L580.0,601.8 L602.7,597.6 L628.5,588.9 L644.7,584.0 L670.6,574.3 L693.3,565.6 L719.2,555.9 L745.0,546.2 L767.7,538.7 L793.6,530.0 L819.5,521.6 L855.1,512.8 L881.0,505.7 L903.6,497.6 L929.5,489.5 L948.9,482.1 L968.3,475.6 L991.0,469.2 L1007.2,462.7 L1033.1,454.6 L1052.5,448.8 L1071.9,441.7 L1097.8,433.6 L1130.2,423.9 L1156.1,415.1 L1160.0,414.2 L1172.9,410.4 L1192.4,402.3 L1211.8,395.1 L1234.4,387.1 L1257.1,378.6 L1289.4,368.3 L1321.8,358.6 L1347.7,349.8 L1376.8,339.2 L1399.5,326.2 L1418.9,314.9 L1444.8,303.6 L1470.7,294.5 L1499.8,284.1 L1525.7,275.1 L1554.8,267.3 L1580.7,259.2 L1606.6,251.8 L1629.3,246.9 L1643.5,241.4" fill="none" stroke="#ef4f45" stroke-width="1.18" stroke-linejoin="round"/>
<path d="M5.8,683.9 L14.6,682.3 L32.4,675.9 L51.8,669.1 L68.0,665.8 L84.1,661.0 L100.3,657.7 L110.0,654.5 L129.4,649.0 L142.4,646.7 L155.3,643.5 L168.3,637.7 L181.2,631.8 L194.2,625.7 L207.1,617.6 L216.8,609.2 L226.5,599.5 L238.3,580.6 L246.6,570.0 L257.7,559.2 L271.6,548.1 L285.5,539.0 L297.4,533.4 L305.5,532.0 L313.5,528.7 L321.3,526.5 L328.8,525.1 L336.5,524.3 L344.3,522.3 L352.4,519.0 L360.4,515.4 L368.2,512.1 L376.2,509.3 L384.3,506.2 L391.8,502.9 L399.5,499.6 L407.6,497.9 L415.3,494.6 L423.4,491.2 L431.4,488.5 L439.5,485.7 L447.5,482.9 L454.5,481.3 L460.0,478.7 L470.5,475.9 L478.3,473.9 L486.4,470.3 L494.4,467.6 L502.5,465.9 L510.2,464.0 L517.7,462.8 L525.5,460.9 L533.5,459.0 L541.3,454.5 L549.3,450.9 L557.4,447.0 L565.4,444.0 L573.2,440.6 L580.7,437.3 L588.5,434.0 L596.5,430.9 L604.3,428.2 L612.3,426.2 L620.4,423.2 L628.4,420.1 L636.5,417.1 L644.2,413.7 L652.3,409.6 L660.3,406.0 L668.4,402.4 L676.4,397.6 L684.5,392.1 L692.5,386.5 L700.0,381.0 L709.4,373.7 L728.9,357.5 L748.3,341.3 L762.3,333.1 L767.7,330.0 L770.4,328.9 L777.6,324.8 L785.6,320.6 L793.7,314.2 L801.7,309.5 L809.5,304.8 L817.6,299.8 L825.6,295.1 L833.4,290.9 L840.9,284.5 L848.6,280.4 L856.4,275.8 L864.4,270.9 L872.5,265.3 L880.2,259.2 L888.3,252.3 L896.3,247.5 L903.6,242.6 L911.6,236.4 L919.4,232.0 L927.4,227.3 L935.5,223.1 L943.5,219.8 L951.3,216.2 L959.3,212.0 L966.5,209.3 L974.3,205.9 L982.4,202.9 L990.4,199.0 L998.4,195.4 L1006.5,191.8 L1014.5,187.6 L1022.3,183.7 L1029.5,180.7 L1037.6,176.8 L1045.6,173.2 L1053.7,170.4 L1061.4,167.1 L1069.5,165.7 L1077.5,163.5 L1085.5,161.0 L1092.5,159.6 L1100.5,157.9 L1108.3,156.2 L1116.3,154.9 L1124.4,153.7 L1132.4,152.6 L1140.2,151.8 L1148.3,151.2 L1155.5,149.9 L1163.5,148.5 L1171.3,147.6 L1179.3,146.8 L1187.4,144.9 L1195.4,144.0 L1203.5,142.1 L1211.5,140.7 L1219.6,139.3 L1226.5,137.9 L1234.6,135.1 L1242.6,132.9 L1250.4,130.4 L1258.4,128.8 L1266.5,129.0 L1274.5,129.6 L1282.6,129.0 L1289.8,127.7 L1297.5,126.3 L1305.5,126.3 L1313.3,124.9 L1329.4,123.2 L1345.5,121.8 L1360.2,121.6 L1368.3,121.0 L1384.4,117.9 L1400.4,115.2 L1415.4,113.0 L1431.5,111.6 L1447.6,109.3 L1463.4,108.0 L1478.4,107.1 L1494.5,106.6 L1502.5,105.2 L1510.5,103.8 L1526.4,101.9 L1541.6,99.9 L1557.4,97.7 L1573.5,97.7 L1589.3,98.5 L1604.6,97.7 L1612.4,95.5 L1620.4,96.3 L1628.5,100.5 L1636.5,102.7 L1644.6,103.0 L1660.1,103.0" fill="none" stroke="#7e57c2" stroke-width="1.25" stroke-linejoin="round"/>
<path d="M6.1,599.2 L13.9,595.1 L21.4,593.7 L29.4,590.9 L37.5,587.8 L45.5,585.3 L53.6,583.7 L61.3,580.9 L69.4,577.6 L76.9,574.8 L84.4,573.7 L92.4,574.0 L100.4,575.6 L108.5,572.6 L116.5,568.7 L124.3,564.3 L132.4,560.4 L139.8,559.5 L147.6,558.2 L155.4,552.1 L163.4,545.7 L171.5,539.6 L179.5,535.1 L187.6,529.9 L195.3,524.9 L202.8,516.5 L210.3,506.8 L218.4,495.7 L226.4,489.3 L234.2,487.6 L242.5,482.1 L250.3,472.4 L258.3,467.7 L265.5,464.9 L273.6,464.1 L281.3,461.3 L289.4,457.7 L297.4,453.8 L305.5,453.0 L312.1,453.0 L321.3,460.4 L328.8,466.8 L336.5,473.2 L344.3,476.5 L352.4,477.9 L360.4,477.1 L368.2,473.8 L376.2,470.2 L384.3,467.7 L391.8,466.8 L399.5,466.5 L407.6,464.1 L415.3,459.9 L423.4,455.7 L431.4,448.2 L439.5,441.9 L447.5,436.3 L454.5,433.0 L460.0,433.2 L470.5,433.2 L478.3,434.3 L486.4,438.7 L494.4,442.6 L502.5,442.0 L510.2,441.5 L517.7,441.2 L525.5,442.0 L533.5,442.6 L541.3,438.7 L549.3,430.9 L557.4,421.2 L565.4,411.5 L573.2,402.6 L580.7,395.7 L588.5,389.3 L596.5,376.8 L604.3,363.5 L612.3,355.5 L620.4,346.3 L628.4,336.6 L636.4,327.5 L644.4,317.8 L651.6,312.3 L659.7,305.9 L667.7,299.8 L675.5,293.7 L683.5,283.1 L691.6,273.4 L699.6,263.7 L707.4,255.4 L714.9,247.6 L722.4,238.7 L730.4,231.0 L738.5,223.5 L746.2,211.0 L754.3,201.3 L762.3,193.0 L770.4,188.0 L777.6,184.6 L785.6,182.4 L793.7,181.3 L801.7,180.5 L809.5,179.4 L817.6,178.2 L825.6,179.1 L833.4,180.5 L840.9,181.0 L848.6,183.2 L856.4,188.4 L864.4,189.8 L872.5,189.8 L880.2,189.0 L888.3,189.8 L896.3,192.1 L903.6,192.6 L911.6,191.2 L919.4,189.8 L927.4,189.3 L935.5,188.4 L943.5,186.5 L951.3,183.5 L959.3,174.6 L966.5,170.4 L974.3,167.6 L982.4,167.6 L990.4,164.0 L998.4,158.8 L1006.5,152.4 L1014.5,148.2 L1022.3,146.0 L1029.5,142.7 L1037.6,137.7 L1045.6,130.7 L1053.7,127.4 L1061.4,123.8 L1069.5,120.5 L1077.5,117.7 L1085.5,114.3 L1092.5,111.0 L1100.5,108.2 L1108.3,107.4 L1116.3,106.8 L1124.4,107.4 L1132.4,109.3 L1140.2,111.0 L1148.3,113.0 L1155.5,113.5 L1163.5,113.0 L1171.3,113.0 L1179.3,114.3 L1187.4,115.7 L1195.4,117.1 L1203.5,119.3 L1211.5,121.3 L1219.6,120.4 L1226.5,119.3 L1234.6,117.1 L1242.6,113.0 L1250.4,110.2 L1258.4,109.6 L1266.5,111.0 L1274.5,117.1 L1282.6,122.7 L1289.8,125.4 L1297.5,126.8 L1305.5,125.4 L1313.3,126.0 L1321.4,126.3 L1329.4,126.8 L1337.5,128.2 L1345.5,130.4 L1352.4,134.3 L1360.2,136.5 L1368.3,136.5 L1376.3,133.8 L1384.4,125.4 L1392.4,117.1 L1400.4,111.6 L1408.5,106.8 L1415.4,102.4 L1423.5,97.1 L1431.5,91.6 L1439.6,86.6 L1447.6,81.9 L1455.4,78.3 L1463.4,74.1 L1471.5,71.3 L1478.4,68.6 L1486.5,67.2 L1494.5,66.6 L1502.5,66.1 L1510.5,63.8 L1518.3,64.4 L1526.4,66.6 L1534.4,69.4 L1541.6,71.3 L1549.4,70.8 L1557.4,71.9 L1565.5,75.5 L1573.5,78.8 L1581.3,82.4 L1589.3,85.2 L1597.4,86.9 L1604.6,87.4 L1612.4,89.4 L1620.4,94.4 L1628.5,106.0 L1636.5,113.0 L1644.6,116.6 L1652.1,118.5 L1660.1,124.9" fill="none" stroke="#ffe445" stroke-width="1.28" stroke-linejoin="round"/>
<rect x="1799" y="55" width="5" height="1" fill="#eceff1" shape-rendering="crispEdges"/>
<text class="ax" x="1806" y="58.9">15913.5</text>
<rect x="1799" y="92" width="5" height="1" fill="#eceff1" shape-rendering="crispEdges"/>
<text class="ax" x="1806" y="96.3">15724.2</text>
<rect x="1799" y="130" width="5" height="1" fill="#eceff1" shape-rendering="crispEdges"/>
<text class="ax" x="1806" y="133.7">15535.0</text>
<rect x="1799" y="167" width="5" height="1" fill="#eceff1" shape-rendering="crispEdges"/>
<text class="ax" x="1806" y="171.1">15345.7</text>
<rect x="1799" y="204" width="5" height="1" fill="#eceff1" shape-rendering="crispEdges"/>
<text class="ax" x="1806" y="208.5">15156.4</text>
<rect x="1799" y="242" width="5" height="1" fill="#eceff1" shape-rendering="crispEdges"/>
<text class="ax" x="1806" y="245.9">14967.2</text>
<rect x="1799" y="279" width="5" height="1" fill="#eceff1" shape-rendering="crispEdges"/>
<text class="ax" x="1806" y="283.3">14777.9</text>
<rect x="1799" y="316" width="5" height="1" fill="#eceff1" shape-rendering="crispEdges"/>
<text class="ax" x="1806" y="320.7">14588.6</text>
<rect x="1799" y="354" width="5" height="1" fill="#eceff1" shape-rendering="crispEdges"/>
<text class="ax" x="1806" y="358.1">14399.4</text>
<rect x="1799" y="391" width="5" height="1" fill="#eceff1" shape-rendering="crispEdges"/>
<text class="ax" x="1806" y="395.5">14210.1</text>
<rect x="1799" y="429" width="5" height="1" fill="#eceff1" shape-rendering="crispEdges"/>
<text class="ax" x="1806" y="432.9">14020.8</text>
<rect x="1799" y="466" width="5" height="1" fill="#eceff1" shape-rendering="crispEdges"/>
<text class="ax" x="1806" y="470.2">13831.6</text>
<rect x="1799" y="503" width="5" height="1" fill="#eceff1" shape-rendering="crispEdges"/>
<text class="ax" x="1806" y="507.6">13642.3</text>
<rect x="1799" y="541" width="5" height="1" fill="#eceff1" shape-rendering="crispEdges"/>
<text class="ax" x="1806" y="545.0">13453.0</text>
<rect x="1799" y="578" width="5" height="1" fill="#eceff1" shape-rendering="crispEdges"/>
<text class="ax" x="1806" y="582.4">13263.7</text>
<rect x="1799" y="615" width="5" height="1" fill="#eceff1" shape-rendering="crispEdges"/>
<text class="ax" x="1806" y="619.8">13074.5</text>
<rect x="1799" y="653" width="5" height="1" fill="#eceff1" shape-rendering="crispEdges"/>
<text class="ax" x="1806" y="657.2">12885.2</text>
<rect x="1799" y="690" width="5" height="1" fill="#eceff1" shape-rendering="crispEdges"/>
<text class="ax" x="1806" y="694.6">12695.9</text>
<rect x="1799" y="728" width="5" height="1" fill="#eceff1" shape-rendering="crispEdges"/>
<text class="ax" x="1806" y="732.0">12506.7</text>
<rect x="1799" y="765" width="5" height="1" fill="#eceff1" shape-rendering="crispEdges"/>
<text class="ax" x="1806" y="769.4">12317.4</text>
<rect x="1799" y="802" width="5" height="1" fill="#eceff1" shape-rendering="crispEdges"/>
<text class="ax" x="1806" y="806.8">12128.1</text>
<text class="ax" x="1806" y="839.0">11938.9</text>
<text class="fib" x="1794.7" y="27.9">0.0</text>
<text class="fib" x="1794.7" y="247.0">23.6</text>
<text class="fib" x="1794.7" y="382.8">38.2</text>
<text class="fib" x="1794.7" y="492.8">50.0</text>
<text class="fib" x="1794.7" y="603.0">61.8</text>
<text class="fib" x="1794.7" y="758.8">78.6</text>
<rect x="1750" y="32.0" width="48" height="15" fill="#cc0000"/>
<text class="tag" x="1754.4" y="42.0">16000.0</text>
<rect x="1750" y="387.8" width="48" height="15" fill="#cc0000"/>
<text class="tag" x="1754.4" y="397.8">14200.0</text>
<rect x="1750" y="466.9" width="48" height="15" fill="#cc0000"/>
<text class="tag" x="1754.4" y="476.9">13800.0</text>
<rect x="1750" y="772.9" width="48" height="15" fill="#a80000"/>
<text class="tag" x="1754.4" y="782.9">12250.0</text>
<polygon points="1794,137.5 1802,129 1854,129 1854,146 1802,146" fill="#87949b"/>
<text x="1806" y="142" font-size="12" font-weight="bold" fill="#fff">15502.0</text>
<rect x="6" y="839" width="1" height="3" fill="#eceff1" shape-rendering="crispEdges"/>
<text class="dt" x="6.5" y="852">30.11.2020</text>
<rect x="140" y="839" width="1" height="3" fill="#eceff1" shape-rendering="crispEdges"/>
<text class="dt" x="140.4" y="852">23.12.2020</text>
<rect x="274" y="839" width="1" height="3" fill="#eceff1" shape-rendering="crispEdges"/>
<text class="dt" x="274.2" y="852">21.01.2021</text>
<rect x="407" y="839" width="1" height="3" fill="#eceff1" shape-rendering="crispEdges"/>
<text class="dt" x="408.1" y="852">15.02.2021</text>
<rect x="541" y="839" width="1" height="3" fill="#eceff1" shape-rendering="crispEdges"/>
<text class="dt" x="542.0" y="852">10.03.2021</text>
<rect x="675" y="839" width="1" height="3" fill="#eceff1" shape-rendering="crispEdges"/>
<text class="dt" x="675.9" y="852">06.04.2021</text>
<rect x="809" y="839" width="1" height="3" fill="#eceff1" shape-rendering="crispEdges"/>
<text class="dt" x="809.7" y="852">29.04.2021</text>
<rect x="943" y="839" width="1" height="3" fill="#eceff1" shape-rendering="crispEdges"/>
<text class="dt" x="943.6" y="852">24.05.2021</text>
<rect x="1077" y="839" width="1" height="3" fill="#eceff1" shape-rendering="crispEdges"/>
<text class="dt" x="1077.5" y="852">16.06.2021</text>
<rect x="1211" y="839" width="1" height="3" fill="#eceff1" shape-rendering="crispEdges"/>
<text class="dt" x="1211.3" y="852">09.07.2021</text>
<rect x="1345" y="839" width="1" height="3" fill="#eceff1" shape-rendering="crispEdges"/>
<text class="dt" x="1345.2" y="852">03.08.2021</text>
<rect x="1478" y="839" width="1" height="3" fill="#eceff1" shape-rendering="crispEdges"/>
<text class="dt" x="1479.1" y="852">26.08.2021</text>
<rect x="1612" y="839" width="1" height="3" fill="#eceff1" shape-rendering="crispEdges"/>
<text class="dt" x="1612.9" y="852">20.09.2021</text>
<rect x="1746" y="839" width="1" height="3" fill="#eceff1" shape-rendering="crispEdges"/>
<text class="dt" x="1746.8" y="852">07.10.2021</text>
<g font-size="13.5"><text x="1740.3" y="825.1" fill="#f5a11d">13</text><text x="1756.3" y="825.1" fill="#c5cacd">h</text><text x="1768.2" y="825.1" fill="#f5a11d">31</text><text x="1785.2" y="825.1" fill="#c5cacd">m</text></g>
<g fill="#b3b3b3"><rect x="6" y="798.2" width="10" height="5.6"/><rect x="6" y="805.4" width="10" height="1.6"/></g>
<rect x="11.5" y="799.5" width="3.6" height="1.3" fill="#fff"/>
<rect x="6" y="801.8" width="10" height="0.7" fill="#e8e8e8"/>
<g stroke="#b3b3b3" stroke-width="2.2" stroke-linecap="butt"><line x1="20.400000000000002" y1="799.8000000000001" x2="27.2" y2="806.6"/><line x1="20.400000000000002" y1="806.6" x2="27.2" y2="799.8000000000001"/></g>
<text class="leg" x="31.1" y="809" xml:space="preserve" textLength="94.7" lengthAdjust="spacingAndGlyphs">SMA  [50,  2] 15672.8</text>
<g fill="#b3b3b3"><rect x="6" y="812.0" width="10" height="5.6"/><rect x="6" y="819.2" width="10" height="1.6"/></g>
<rect x="11.5" y="813.3" width="3.6" height="1.3" fill="#fff"/>
<rect x="6" y="815.6" width="10" height="0.7" fill="#e8e8e8"/>
<g stroke="#b3b3b3" stroke-width="2.2" stroke-linecap="butt"><line x1="20.400000000000002" y1="813.6" x2="27.2" y2="820.4"/><line x1="20.400000000000002" y1="820.4" x2="27.2" y2="813.6"/></g>
<text class="leg" x="31.1" y="822.8" xml:space="preserve" textLength="94.7" lengthAdjust="spacingAndGlyphs">SMA  [14,  2] 15599.4</text>
<g fill="#b3b3b3"><rect x="6" y="826.0" width="10" height="5.6"/><rect x="6" y="833.2" width="10" height="1.6"/></g>
<rect x="11.5" y="827.3" width="3.6" height="1.3" fill="#fff"/>
<rect x="6" y="829.6" width="10" height="0.7" fill="#e8e8e8"/>
<g stroke="#b3b3b3" stroke-width="2.2" stroke-linecap="butt"><line x1="20.400000000000002" y1="827.6" x2="27.2" y2="834.4"/><line x1="20.400000000000002" y1="834.4" x2="27.2" y2="827.6"/></g>
<text class="leg" x="31.1" y="836.8" xml:space="preserve" textLength="100.8" lengthAdjust="spacingAndGlyphs">SMA  [200,  0] 14966.6</text>
<text x="20.2" y="25.9" font-size="10.5" font-weight="bold" fill="#3d4a52">DE30</text>
<text x="56.3" y="24.9" font-size="7.8" font-weight="bold" fill="#8a9fa9" textLength="12.8" lengthAdjust="spacingAndGlyphs">IND</text>
<polygon points="77.4,19.1 84.7,19.1 81.05,22.7" fill="#b5b5b5"/>
<circle cx="99.1" cy="22.5" r="5.6" fill="none" stroke="#3d4a52" stroke-width="1"/>
<rect x="98.6" y="21.6" width="1" height="4" fill="#3d4a52"/><rect x="98.6" y="19.4" width="1" height="1.1" fill="#3d4a52"/>
<rect x="117.5" y="13.5" width="35" height="17" rx="2.5" fill="#fff" stroke="#dde1e4" stroke-width="1"/>
<text x="122.2" y="25.9" font-size="9.8" fill="#4a5860" textLength="9.5" lengthAdjust="spacingAndGlyphs">D1</text>
<polygon points="141.3,21.1 148.4,21.1 144.85,24.9" fill="#b5b5b5"/>
</svg></body></html>
